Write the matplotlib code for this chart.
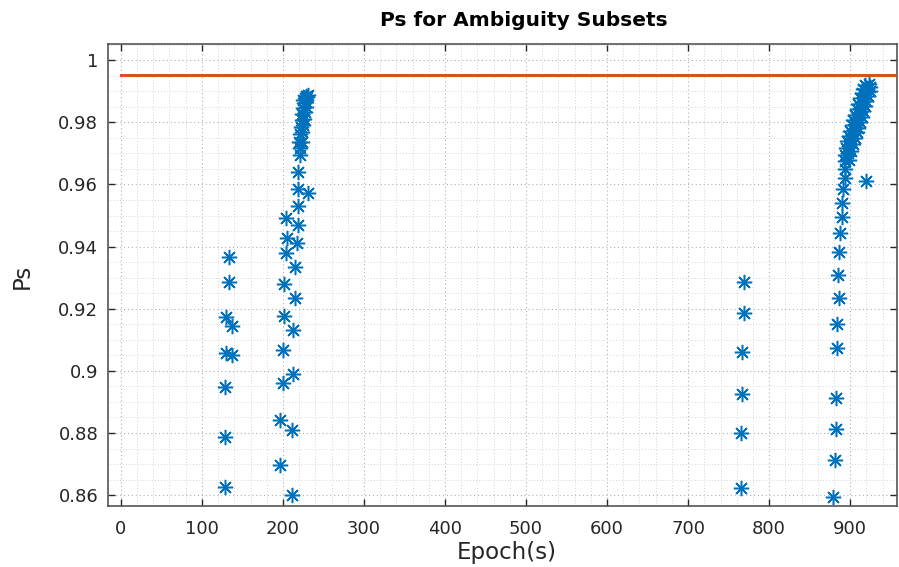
import matplotlib
matplotlib.use("Agg")
import matplotlib.pyplot as plt
from matplotlib.ticker import MultipleLocator, FuncFormatter

plt.rcParams['font.family'] = ['DejaVu Sans']

# ---- data ----
epochs_c1 = [133, 133, 130, 137, 130, 137, 129, 129, 129]
ps_c1 = [0.9365, 0.9286, 0.9172, 0.9144, 0.9058, 0.9051, 0.8947, 0.8786, 0.8627]

epochs_c2 = [211, 197, 197, 211, 200, 213, 200, 213, 201, 215, 201, 215, 204, 217,
             205, 218, 204, 218, 219, 231, 219, 221,
             221, 220, 223, 221, 224, 222, 225, 223, 226, 224, 227, 225, 228, 226,
             229, 227, 230, 228, 231, 225]
ps_c2 = [0.8600, 0.8697, 0.8841, 0.8811, 0.8961, 0.8989, 0.9067, 0.9133, 0.9176, 0.9236,
         0.9279, 0.9335, 0.9378, 0.9410, 0.9429, 0.9469, 0.9491, 0.9530, 0.9584, 0.9573,
         0.9640, 0.9694,
         0.9717, 0.9737, 0.9737, 0.9762, 0.9768, 0.9785, 0.9790, 0.9807, 0.9812, 0.9828,
         0.9833, 0.9845, 0.9850, 0.9862, 0.9866, 0.9877, 0.9880, 0.9885, 0.9888, 0.9872]

epochs_c3 = [769, 769, 767, 767, 765, 765]
ps_c3 = [0.9286, 0.9185, 0.9061, 0.8927, 0.8799, 0.8622]

epochs_c4 = [879, 881, 882, 882, 884, 884, 886, 885, 886, 887, 890, 890, 891, 920, 893, 893,
             894, 898, 893, 897, 901, 895, 899, 904, 896, 901, 906, 898, 903, 908, 900, 905,
             910, 902, 907, 912, 904, 909, 914, 906, 911, 916, 908, 913, 918, 910, 915, 920,
             912, 917, 922, 914, 919, 924, 916, 921, 925, 918, 923]
ps_c4 = [0.8594, 0.8713, 0.8814, 0.8914, 0.9075, 0.9152, 0.9233, 0.9308, 0.9383, 0.9444,
         0.9496, 0.9541, 0.9587, 0.9612, 0.9620, 0.9651,
         0.9675, 0.9680, 0.9695, 0.9702, 0.9708, 0.9718, 0.9725, 0.9730, 0.9740, 0.9745,
         0.9750, 0.9757, 0.9762, 0.9768, 0.9772, 0.9778, 0.9783, 0.9790, 0.9795, 0.9800,
         0.9808, 0.9813, 0.9818, 0.9825, 0.9830, 0.9836, 0.9842, 0.9848, 0.9853, 0.9860,
         0.9866, 0.9870, 0.9877, 0.9882, 0.9886, 0.9893, 0.9898, 0.9902, 0.9908, 0.9912,
         0.9915, 0.9920, 0.9922]

threshold_x = [0, 960]
threshold_y = [0.9952, 0.9952]

x_ticks = [0, 100, 200, 300, 400, 500, 600, 700, 800, 900]
y_ticks = [0.86, 0.88, 0.9, 0.92, 0.94, 0.96, 0.98, 1.0]

fig = plt.figure(figsize=(8.99, 5.67), dpi=100)
ax = fig.add_axes([0.120, 0.1076, 0.878, 0.8147])

blue = '#0072BD'
orange = '#D95319'
ax.plot(threshold_x, threshold_y, color=orange, lw=2.2, zorder=3, clip_on=True)
for ex, py in [(epochs_c1, ps_c1), (epochs_c2, ps_c2), (epochs_c3, ps_c3), (epochs_c4, ps_c4)]:
    ax.plot(ex, py, linestyle='none', marker=(8, 2, 0), markersize=11,
            markeredgewidth=1.1, color=blue, zorder=4)

ax.set_xlim(-16, 958)
ax.set_ylim(0.8565, 1.0052)
ax.set_xticks(x_ticks)
ax.set_yticks(y_ticks)
ax.yaxis.set_major_formatter(FuncFormatter(lambda v, p: f"{v:g}"))
ax.xaxis.set_minor_locator(MultipleLocator(20))
ax.yaxis.set_minor_locator(MultipleLocator(0.005))

ax.tick_params(which='major', direction='in', length=5, width=1, top=True, right=True,
               labelsize=13, colors='#262626')
ax.tick_params(axis='x', which='major', pad=10)
ax.tick_params(axis='y', which='major', pad=7)
ax.tick_params(which='minor', direction='in', length=0, top=True, right=True)
ax.grid(which='major', color='#b0b0b0', linestyle=(0, (1, 2.5)), linewidth=0.8)
ax.grid(which='minor', color='#c8c8c8', linestyle=(0, (1, 2.5)), linewidth=0.6)
ax.set_axisbelow(True)
for s in ax.spines.values():
    s.set_color('#555555')
    s.set_linewidth(1.2)

ax.set_xlabel('Epoch(s)', fontsize=16.5, color='#262626')
ax.xaxis.set_label_coords((507 - 108) / 789, -(553 - 506) / 462)
ax.xaxis.label.set_va('center')
ax.set_ylabel('Ps', fontsize=16.5, color='#262626')
ax.yaxis.set_label_coords((22 - 108) / 789, (506 - 276) / 462)
ax.yaxis.label.set_va('center')
fig.text(524 / 899, 1 - 21 / 567, 'Ps for Ambiguity Subsets', ha='center', va='center',
         fontsize=14.5, fontweight='bold', color='black')

fig.savefig('out.png', dpi=100)
